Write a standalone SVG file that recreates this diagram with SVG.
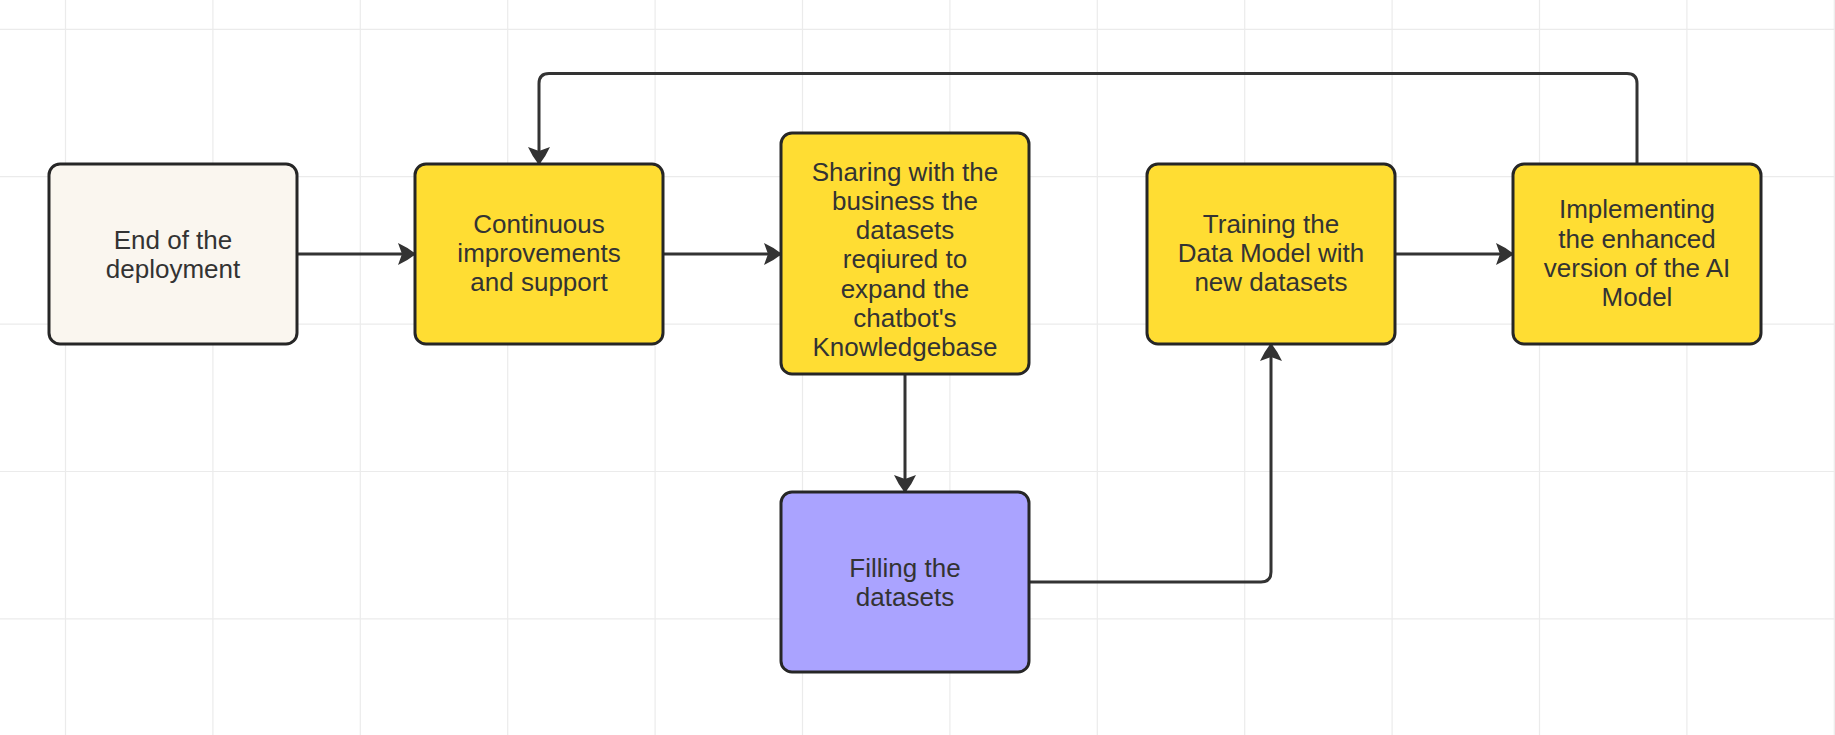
<svg xmlns="http://www.w3.org/2000/svg" width="1835" height="735" viewBox="0 0 1835 735">
<style>
.grid line{stroke:#ebebeb;stroke-width:1.2}
.node rect{stroke:#262626;stroke-width:3}
.node text{font-family:"Liberation Sans",Arial,sans-serif;font-size:26px;fill:#333333;text-anchor:middle}
.conn path{fill:none;stroke:#333333;stroke-width:3;marker-end:url(#arrow)}
.cream{fill:#faf6ef}
.yellow{fill:#ffdd33}
.purple{fill:#aaa3ff}
</style>
<defs>
<marker id="arrow" viewBox="0 0 18 22" refX="17" refY="11" markerWidth="18" markerHeight="22" markerUnits="userSpaceOnUse" orient="auto">
<path d="M0,0 Q9,4 18,11 Q9,18 0,22 L4,11 Z" fill="#333333"/>
</marker>
</defs>
<rect x="0" y="0" width="1835" height="735" fill="#ffffff"/>
<g class="grid">
<line x1="65.5" y1="0" x2="65.5" y2="735"/>
<line x1="212.9" y1="0" x2="212.9" y2="735"/>
<line x1="360.3" y1="0" x2="360.3" y2="735"/>
<line x1="507.7" y1="0" x2="507.7" y2="735"/>
<line x1="655.1" y1="0" x2="655.1" y2="735"/>
<line x1="802.5" y1="0" x2="802.5" y2="735"/>
<line x1="949.9" y1="0" x2="949.9" y2="735"/>
<line x1="1097.3" y1="0" x2="1097.3" y2="735"/>
<line x1="1244.7" y1="0" x2="1244.7" y2="735"/>
<line x1="1392.1" y1="0" x2="1392.1" y2="735"/>
<line x1="1539.5" y1="0" x2="1539.5" y2="735"/>
<line x1="1686.9" y1="0" x2="1686.9" y2="735"/>
<line x1="1834.3" y1="0" x2="1834.3" y2="735"/>
<line x1="0" y1="29.3" x2="1835" y2="29.3"/>
<line x1="0" y1="176.7" x2="1835" y2="176.7"/>
<line x1="0" y1="324.1" x2="1835" y2="324.1"/>
<line x1="0" y1="471.5" x2="1835" y2="471.5"/>
<line x1="0" y1="618.9" x2="1835" y2="618.9"/>
</g>
<g id="connectors" class="conn">
<path d="M297,254 L415,254"/>
<path d="M663,254 L781,254"/>
<path d="M1395,254 L1513,254"/>
<path d="M905,374 L905,492"/>
<path d="M1029,582 L1261,582 Q1271,582 1271,572 L1271,344"/>
<path d="M1637,164 L1637,83.5 Q1637,73.5 1627,73.5 L549,73.5 Q539,73.5 539,83.5 L539,164"/>
</g>
<g id="node-end" class="node">
<rect class="cream" x="49" y="164" width="248" height="180" rx="11"/>
<text x="173"><tspan x="173" y="248.5">End of the</tspan><tspan x="173" y="277.8">deployment</tspan></text>
</g>
<g id="node-continuous" class="node">
<rect class="yellow" x="415" y="164" width="248" height="180" rx="11"/>
<text x="539"><tspan x="539" y="232.8">Continuous</tspan><tspan x="539" y="262.1">improvements</tspan><tspan x="539" y="291.4">and support</tspan></text>
</g>
<g id="node-sharing" class="node">
<rect class="yellow" x="781" y="133" width="248" height="241" rx="11"/>
<text x="905"><tspan x="905" y="180.5">Sharing with the</tspan><tspan x="905" y="209.8">business the</tspan><tspan x="905" y="239.1">datasets</tspan><tspan x="905" y="268.4">reqiured to</tspan><tspan x="905" y="297.7">expand the</tspan><tspan x="905" y="327">chatbot's</tspan><tspan x="905" y="356.3">Knowledgebase</tspan></text>
</g>
<g id="node-filling" class="node">
<rect class="purple" x="781" y="492" width="248" height="180" rx="11"/>
<text x="905"><tspan x="905" y="576.8">Filling the</tspan><tspan x="905" y="606.1">datasets</tspan></text>
</g>
<g id="node-training" class="node">
<rect class="yellow" x="1147" y="164" width="248" height="180" rx="11"/>
<text x="1271"><tspan x="1271" y="232.8">Training the</tspan><tspan x="1271" y="262.1">Data Model with</tspan><tspan x="1271" y="291.4">new datasets</tspan></text>
</g>
<g id="node-implementing" class="node">
<rect class="yellow" x="1513" y="164" width="248" height="180" rx="11"/>
<text x="1637"><tspan x="1637" y="218.2">Implementing</tspan><tspan x="1637" y="247.5">the enhanced</tspan><tspan x="1637" y="276.8">version of the AI</tspan><tspan x="1637" y="306.1">Model</tspan></text>
</g>
</svg>
